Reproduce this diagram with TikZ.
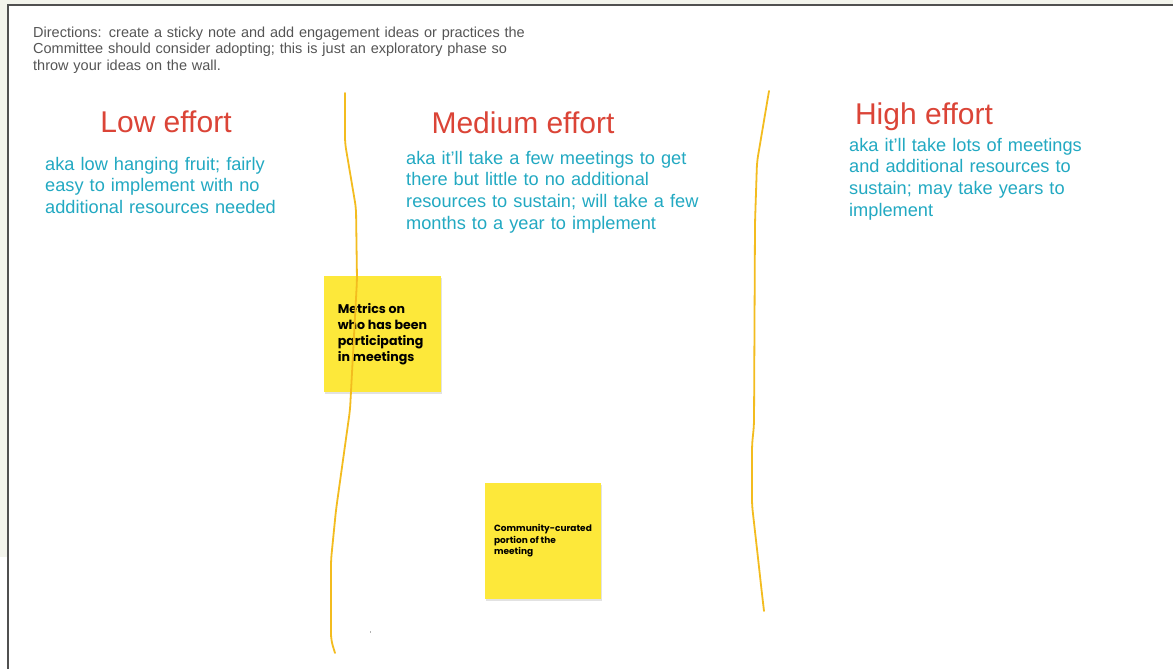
\documentclass[tikz,border=0pt]{standalone}
\usepackage{fontspec}
\setmainfont{Liberation Sans}
\newfontfamily\notefont{Poppins}
\usetikzlibrary{shadows}

\definecolor{wallbg}{HTML}{F3F4EC}
\definecolor{framegray}{HTML}{505050}
\definecolor{dirgray}{HTML}{555555}
\definecolor{headred}{HTML}{DB4437}
\definecolor{aqua}{HTML}{22A9C2}
\definecolor{stickyyellow}{HTML}{FDE83A}
\definecolor{penyellow}{HTML}{F3BC1F}

\begin{document}
\begin{tikzpicture}[x=1pt,y=-1pt,
  heading/.style={text=headred,font=\fontsize{30}{36}\selectfont,inner sep=0,anchor=base},
  aka/.style={text=aqua,font=\fontsize{18.2}{21.8}\selectfont,text width=300pt,align=left,anchor=base west,inner sep=0},
  sticky/.style={fill=stickyyellow,rectangle,inner sep=0,align=left,
    drop shadow={shadow xshift=0.5pt,shadow yshift=-2pt,fill=black!22}},
  pen/.style={draw=penyellow,line width=1.8,line cap=round,line join=round,rounded corners=6}]
\useasboundingbox (0,0) rectangle (1173,669);
% wall and frame
\fill[wallbg] (0,0) rectangle (1173,669);
\fill[white] (8,5) rectangle (1173,669);
\fill[white] (0,557) rectangle (8,669);
\draw[framegray,line width=2] (1173,5) -- (8,5) -- (8,669);

\node[text=dirgray,font=\fontsize{14.5}{16.3}\selectfont,text width=560pt,align=left,anchor=base west,inner sep=0] (dir) at (33,37.5)
  {Directions: create a sticky note and add engagement ideas or practices the\\
   Committee should consider adopting; this is just an exploratory phase so\\
   throw your ideas on the wall.};

% columns
\node[heading] (low) at (166,132) {Low effort};
\node[heading] (med) at (523,133) {Medium effort};
\node[heading] (high) at (924,124) {High effort};

\node[aka] (lowtxt) at (45,170) {aka low hanging fruit; fairly\\easy to implement with no\\additional resources needed};
\node[aka] (medtxt) at (406,164) {aka it'll take a few meetings to get\\there but little to no additional\\resources to sustain; will take a few\\months to a year to implement};
\node[aka] (hightxt) at (849,151) {aka it'll take lots of meetings\\and additional resources to\\sustain; may take years to\\implement};

% sticky notes
\node[sticky,minimum width=117,minimum height=116,
  font=\notefont\bfseries\fontsize{12.6}{15.8}\selectfont] (metrics) at (382.5,334)
  {Metrics on\\who has been\\participating\\in meetings};
\node[sticky,minimum width=116,minimum height=116,
  font=\notefont\bfseries\fontsize{9}{11.4}\selectfont] (curated) at (543,541)
  {Community-curated\\portion of the\\meeting};

% hand drawn dividers
\draw[pen] (345,93) -- (345,143) -- (356,208) -- (357,280) -- (350,410)
  -- (336,510) -- (331,560) -- (331,640) -- (335,653);
\draw[pen] (769,91) -- (757,162) -- (755,223) -- (754,425) -- (752,445)
  -- (752,505) -- (758,558) -- (762,594) -- (764,611);
\draw[gray!60,line width=0.6] (370,631) -- (370,633);
\end{tikzpicture}
\end{document}
